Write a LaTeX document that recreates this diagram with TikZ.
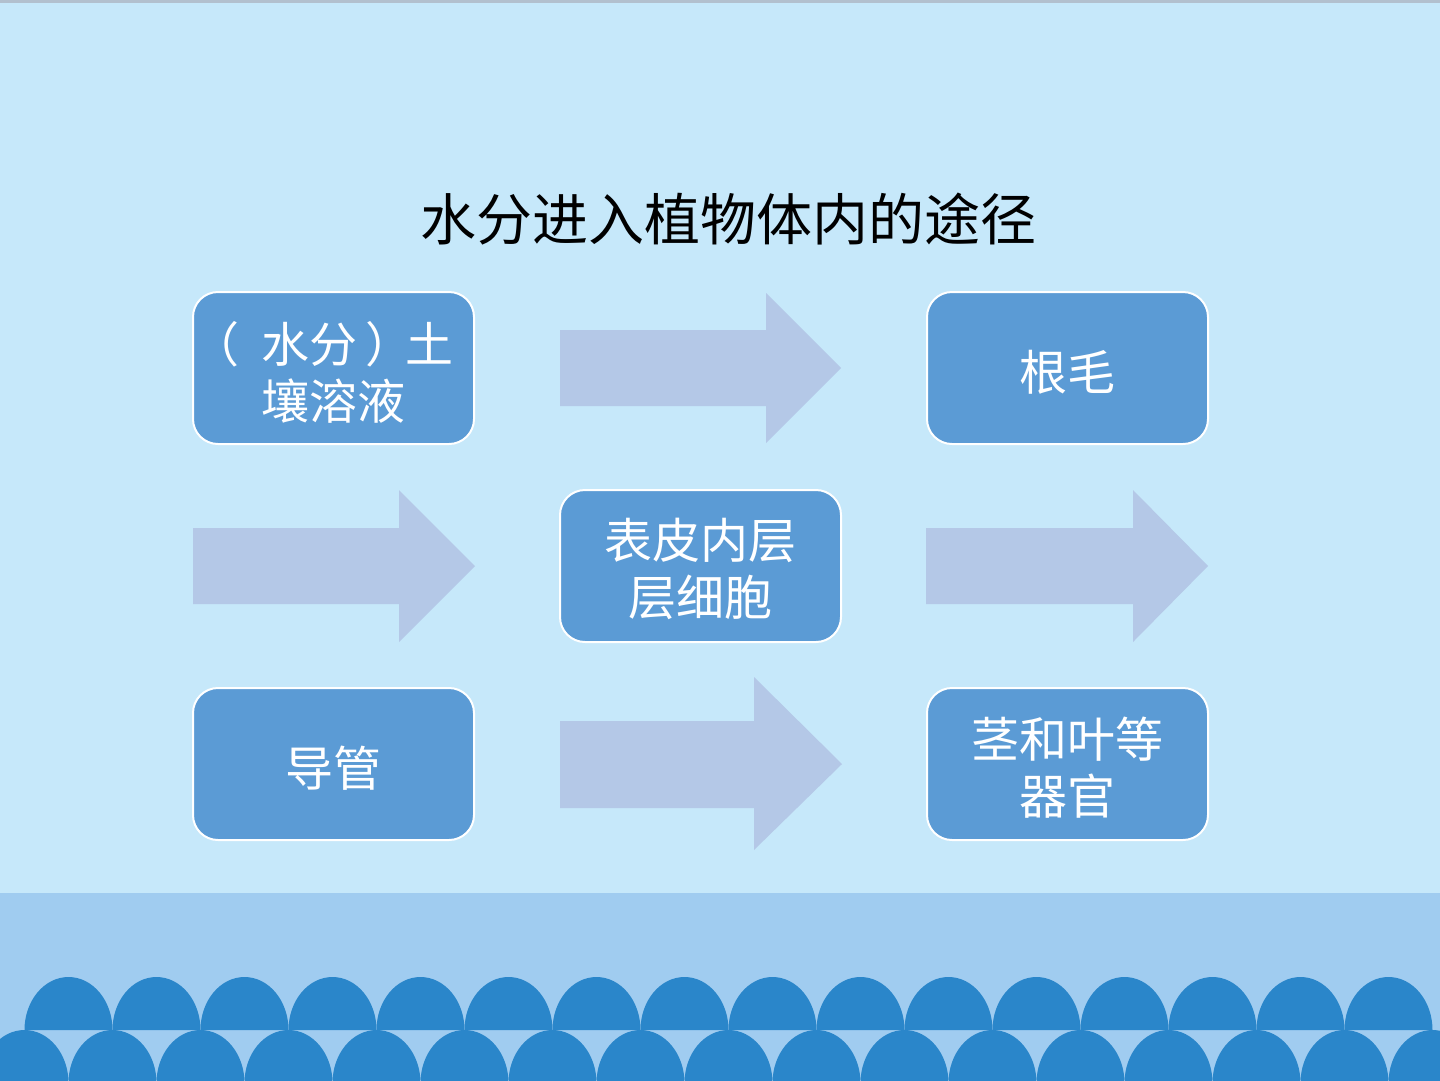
\documentclass[tikz,border=0pt]{standalone}
\usepackage{fontspec}
\newfontfamily\cjk{Noto Sans CJK SC}
\definecolor{bgtop}{RGB}{198,232,250}
\definecolor{band}{RGB}{160,204,240}
\definecolor{wave}{RGB}{42,134,202}
\definecolor{boxfill}{RGB}{91,155,213}
\definecolor{arrowfill}{RGB}{180,200,231}
\definecolor{topline}{RGB}{178,192,206}
\begin{document}
\begin{tikzpicture}[x=1pt,y=-1pt,
  stepbox/.style={draw=white,line width=2pt,fill=boxfill,rounded corners=25pt,
    minimum width=281pt,minimum height=152pt,inner sep=0pt},
  boxtext/.style={inner sep=0pt,align=center,text=white,
    font=\cjk\fontsize{48}{57}\selectfont},
  blockarrow/.style={fill=arrowfill},
  titlestyle/.style={font=\cjk\fontsize{56}{64}\selectfont,text=black,inner sep=0pt}]
\useasboundingbox (0,0) rectangle (1440,1080);
\begin{scope}
\clip (0,0) rectangle (1440,1080);
% background
\fill[bgtop] (0,0) rectangle (1440,1080);
\fill[topline] (0,0) rectangle (1440,2.5);
\fill[band] (0,893) rectangle (1440,1080);
% waves
\foreach \k in {0,...,16}
  \fill[wave] ({24.5+88*\k-44},1083) arc[start angle=180,end angle=0,x radius=44pt,y radius=53pt] -- cycle;
\foreach \k in {0,...,15}
  \fill[wave] ({68.5+88*\k-44},1030) arc[start angle=180,end angle=0,x radius=44pt,y radius=53pt] -- cycle;
\end{scope}
% title
\node[titlestyle] (title) at (728,219) {水分进入植物体内的途径};
% boxes
\node[stepbox] (soil) at (333.5,368) {};
\node[stepbox] (hair) at (1067.5,368) {};
\node[stepbox] (cells) at (700.5,566) {};
\node[stepbox] (vessel) at (333.5,764) {};
\node[stepbox] (organ) at (1067.5,764) {};
\node[boxtext] (soiltext) at ([yshift=-4pt]soil.center)
  {\makebox[48pt][l]{\hspace*{-22pt}（}水分\makebox[48pt][l]{\hspace*{8pt}）}土\\壤溶液};
\node[boxtext] (hairtext) at ([yshift=-4pt]hair.center) {根毛};
\node[boxtext] (cellstext) at ([yshift=-3pt]cells.center) {表皮内层\\层细胞};
\node[boxtext] (vesseltext) at ([yshift=-4pt]vessel.center) {导管};
\node[boxtext] (organtext) at ([yshift=-4pt]organ.center) {茎和叶等\\器官};
% block arrows
\fill[blockarrow] (560,330) -- (766,330) -- (766,293) -- (841,368) -- (766,443) -- (766,406) -- (560,406) -- cycle;
\fill[blockarrow] (193,528) -- (399,528) -- (399,490) -- (475,566) -- (399,642) -- (399,604) -- (193,604) -- cycle;
\fill[blockarrow] (926,528) -- (1133,528) -- (1133,490) -- (1208,566) -- (1133,642) -- (1133,604) -- (926,604) -- cycle;
\fill[blockarrow] (560,721) -- (754,721) -- (754,677) -- (842,764) -- (754,850) -- (754,808) -- (560,808) -- cycle;
\end{tikzpicture}
\end{document}
